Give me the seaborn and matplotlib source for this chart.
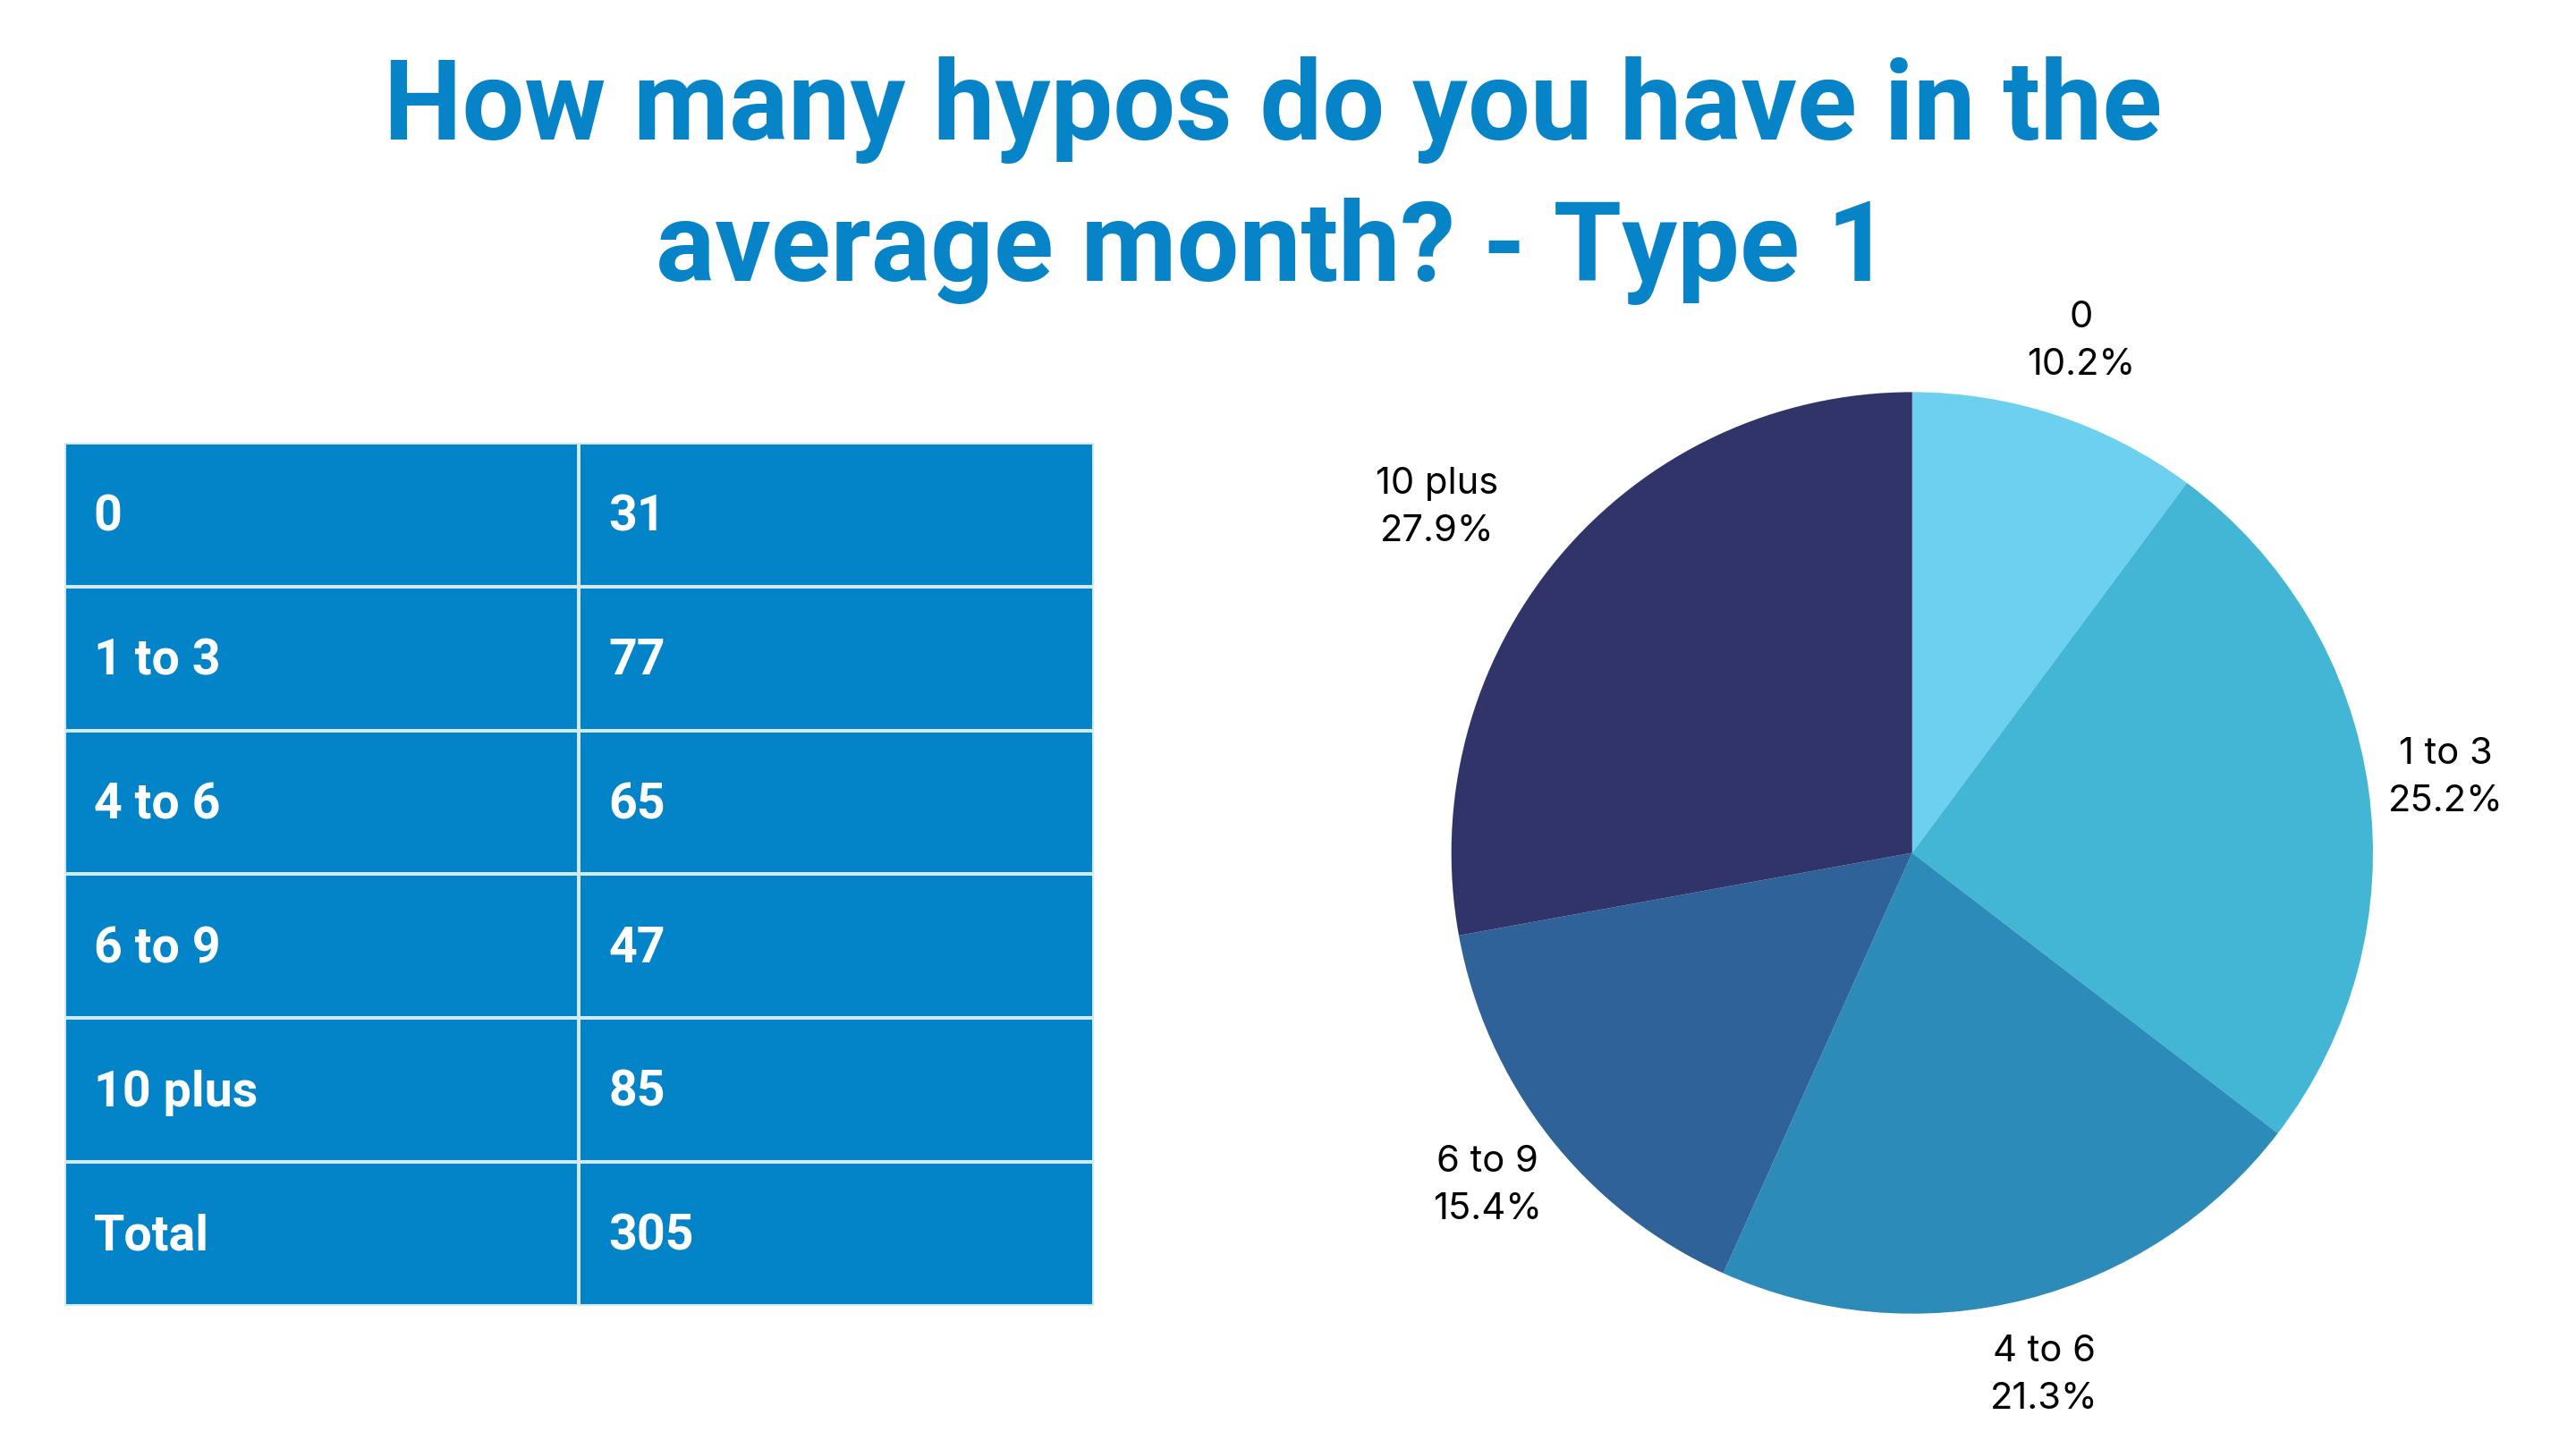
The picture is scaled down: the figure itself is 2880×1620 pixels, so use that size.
"""
hypo frequency survey - type 1: summary table + pie
"""
import matplotlib.pyplot as plt
from matplotlib.colors import ListedColormap
import numpy as np
import seaborn as sns

categories = ["0", "1 to 3", "4 to 6", "6 to 9", "10 plus"]
counts = [31, 77, 65, 47, 85]
total_label = "Total"
title_lines = ["How many hypos do you have in the", "average month? - Type 1"]

pie_colors = ["#6cd0ee", "#43b6d6", "#2c8bb9", "#2e6298", "#303468"]
table_blue = "#0384c8"
title_blue = "#0784c7"

sns.set_theme(style="white")
plt.rcParams["font.family"] = ["Inter", "DejaVu Sans"]
heading_font = ["Roboto", "DejaVu Sans"]

fig = plt.figure(figsize=(14.4, 8.1), dpi=200)

# Title (two centred lines)
fig.text(0.494, 0.9034, title_lines[0], ha="center", va="baseline",
         fontsize=44.5, fontweight="bold", color=title_blue, family=heading_font)
fig.text(0.494, 0.806, title_lines[1], ha="center", va="baseline",
         fontsize=44.5, fontweight="bold", color=title_blue, family=heading_font)

# Table drawn as a single-colour heatmap with text cells
total = int(np.sum(counts))
row_names = categories + [total_label]
row_vals = [str(c) for c in counts] + [str(total)]
labels = np.array([[n, v] for n, v in zip(row_names, row_vals)])
grid = np.zeros(labels.shape)

ax_t = fig.add_axes([0.025, 0.0989, 0.3995, 0.5955])
sns.heatmap(grid, cmap=ListedColormap([table_blue]), annot=labels, fmt="",
            cbar=False, linewidths=0.8, linecolor="#d2e9f6",
            xticklabels=False, yticklabels=False, ax=ax_t,
            annot_kws=dict(color="white", fontsize=20, fontweight="bold",
                           family=heading_font))
for t in ax_t.texts:
    x, y = t.get_position()
    t.set_ha("left")
    t.set_x(x - 0.5 + 0.057)
    t.set_y(y + 0.02)
for s in ax_t.spines.values():
    s.set_visible(False)

# Pie
ax_p = fig.add_axes([0.7423 - 0.1795, 0.4114 - 0.318, 0.359, 0.636])
pct = [100.0 * c / total for c in counts]
pie_labels = [f"{n}\n{p:.1f}%" for n, p in zip(categories, pct)]
wedges, texts = ax_p.pie(counts, labels=pie_labels, colors=pie_colors,
                         startangle=90, counterclock=False, labeldistance=1.17,
                         wedgeprops=dict(linewidth=0),
                         textprops=dict(fontsize=15, color="black", linespacing=1.5))
# labels centred on their anchor, except the upper-left one which sits clear of the pie
label_ha = {"10 plus": "right"}
for name, t in zip(categories, texts):
    t.set_ha(label_ha.get(name, "center"))
    t.set_va("center")
    t.set_multialignment("center")
ax_p.set_xlim(-1, 1)
ax_p.set_ylim(-1, 1)
ax_p.set_aspect("equal")

fig.savefig("out.png", dpi=200, facecolor="white")
